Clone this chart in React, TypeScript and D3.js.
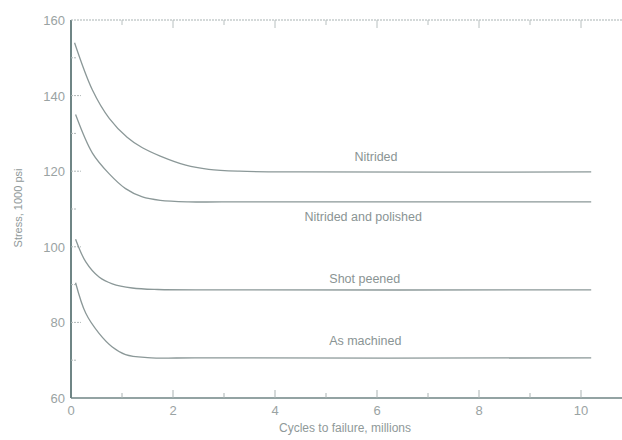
import { useEffect, useRef } from "react";
import * as d3 from "d3";

// values (x in millions of cycles, y in 1000 psi)
const nitridedX = [0.07, 0.42, 0.75, 1.1, 1.4, 1.75, 2.25, 2.7, 3.3, 4.5, 10.2];
const nitridedY = [154, 141.5, 134, 129, 126.2, 124, 121.6, 120.5, 120, 119.8, 119.8];

const polishedX = [0.09, 0.42, 0.75, 1.07, 1.4, 1.75, 2.3, 3.5, 10.2];
const polishedY = [135, 124.8, 119.3, 115.4, 113.2, 112.3, 111.9, 111.9, 111.9];

const peenedX = [0.09, 0.29, 0.55, 0.81, 1.2, 1.7, 3, 10.2];
const peenedY = [102, 96, 92, 90.2, 89.1, 88.7, 88.6, 88.6];

const machinedX = [0.09, 0.29, 0.55, 0.81, 1.07, 1.5, 2.5, 10.2];
const machinedY = [90.5, 82.4, 77.1, 73.5, 71.5, 70.7, 70.6, 70.6];

const curveLabels = ["Nitrided", "Nitrided and polished", "Shot peened", "As machined"];
// where each label sits (data units)
const labelX = [5.98, 5.73, 5.76, 5.77];
const labelY = [122.7, 106.8, 90.4, 74];

const xTicks = [0, 2, 4, 6, 8, 10];
const xMinor = [1, 3, 5, 7, 9];
const yTicks = [60, 80, 100, 120, 140, 160];
const yMinor = [70, 90, 110, 130, 150];

const App = () => {
  const ref = useRef(null);

  useEffect(() => {
    const W = 622;
    const H = 440;
    const margin = { top: 20, bottom: 42, left: 71 };

    const svg = d3.select(ref.current).attr("width", W).attr("height", H).html("");
    svg.append("rect").attr("width", W).attr("height", H).attr("fill", "#fff");

    // 51 px per million cycles, axis runs off the right edge
    const x = d3.scaleLinear().domain([0, 10.8]).range([margin.left, margin.left + 51 * 10.8]);
    const y = d3.scaleLinear().domain([60, 160]).range([H - margin.bottom, margin.top]);

    const axisCol = "#6f8585";
    const textCol = "#9aa3a3";
    const lineCol = "#8b9898";
    const font = "Liberation Sans, Arial, sans-serif";

    const g = svg.append("g");
    const x0 = x(0);
    const y0 = y(60);
    const yTop = y(160);

    // frame: left, bottom, top
    g.append("line").attr("x1", x0).attr("x2", x0).attr("y1", yTop).attr("y2", y0)
      .attr("stroke", axisCol).attr("stroke-width", 2);
    g.append("line").attr("x1", x0).attr("x2", W).attr("y1", y0).attr("y2", y0)
      .attr("stroke", axisCol).attr("stroke-width", 1.3);
    g.append("line").attr("x1", x0).attr("x2", W).attr("y1", yTop).attr("y2", yTop)
      .attr("stroke", "#a9b3b3").attr("stroke-width", 1).attr("stroke-dasharray", "2,1");

    // x ticks (inward, bottom and top)
    xTicks.concat(xMinor).forEach((v) => {
      const len = xTicks.includes(v) ? 8 : 5;
      if (v === 0) return;
      g.append("line").attr("x1", x(v)).attr("x2", x(v)).attr("y1", y0).attr("y2", y0 - len)
        .attr("stroke", "#aab3b3");
      g.append("line").attr("x1", x(v)).attr("x2", x(v)).attr("y1", yTop).attr("y2", yTop + len)
        .attr("stroke", "#b8c0c0");
    });
    // y ticks (inward)
    yTicks.concat(yMinor).forEach((v) => {
      const len = yTicks.includes(v) ? 10 : 6;
      if (v === 60 || v === 160) return;
      g.append("line").attr("x1", x0).attr("x2", x0 + len).attr("y1", y(v)).attr("y2", y(v))
        .attr("stroke", "#b0b8b8").attr("stroke-dasharray", "2,1");
    });

    // tick labels
    g.selectAll(".xl").data(xTicks).enter().append("text")
      .attr("x", (d) => x(d)).attr("y", y0 + 17).attr("text-anchor", "middle")
      .attr("font-family", font).attr("font-size", 13).attr("fill", textCol)
      .text((d) => d);
    g.selectAll(".yl").data(yTicks).enter().append("text")
      .attr("x", x0 - 6).attr("y", (d) => y(d) + 5).attr("text-anchor", "end")
      .attr("font-family", font).attr("font-size", 13).attr("fill", textCol)
      .text((d) => d);

    // axis titles
    g.append("text").attr("x", 345).attr("y", 432).attr("text-anchor", "middle")
      .attr("font-family", font).attr("font-size", 12).attr("fill", "#8f9999")
      .text("Cycles to failure, millions");
    g.append("text").attr("transform", `translate(22,${208}) rotate(-90)`)
      .attr("text-anchor", "middle").attr("font-family", font).attr("font-size", 11)
      .attr("fill", "#8f9999").text("Stress, 1000 psi");

    // curves
    const line = d3.line().x((d) => x(d[0])).y((d) => y(d[1])).curve(d3.curveCatmullRom.alpha(0.5));
    const series = [
      [nitridedX, nitridedY],
      [polishedX, polishedY],
      [peenedX, peenedY],
      [machinedX, machinedY],
    ];
    series.forEach(([xs, ys]) => {
      g.append("path").datum(xs.map((v, i) => [v, ys[i]]))
        .attr("d", line).attr("fill", "none").attr("stroke", lineCol).attr("stroke-width", 1.3);
    });

    // curve labels
    curveLabels.forEach((t, i) => {
      g.append("text").attr("x", x(labelX[i])).attr("y", y(labelY[i]))
        .attr("text-anchor", "middle").attr("font-family", font).attr("font-size", 12.5)
        .attr("fill", "#8a9494").text(t);
    });
  }, []);

  return (
    <div style={{ position: "absolute", left: 0, top: 0 }}>
      <svg ref={ref} width={622} height={440} style={{ display: "block" }}></svg>
    </div>
  );
};

export default App;
